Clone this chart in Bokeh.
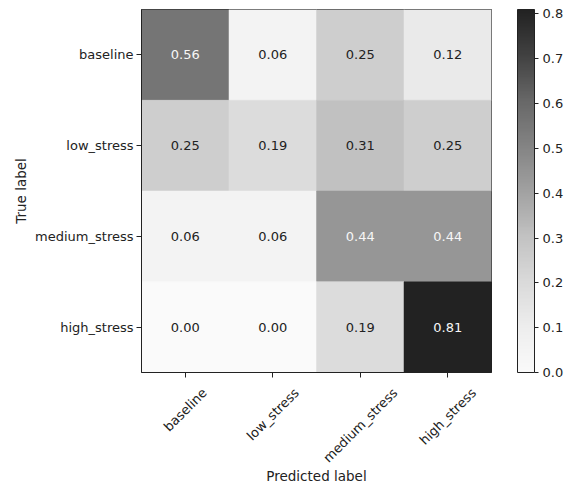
import math
import numpy as np
from bokeh.plotting import figure
from bokeh.models import (ColumnDataSource, LinearColorMapper, ColorBar, FixedTicker,
                          PrintfTickFormatter, FactorRange, Range1d, LinearAxis)
from bokeh.transform import transform
from bokeh.core.properties import value
from bokeh.embed import file_html
from bokeh.resources import INLINE

# ---- data ----
classes = ["baseline", "low_stress", "medium_stress", "high_stress"]
row_baseline = [0.56, 0.06, 0.25, 0.12]
row_low_stress = [0.25, 0.19, 0.31, 0.25]
row_medium_stress = [0.06, 0.06, 0.44, 0.44]
row_high_stress = [0.00, 0.00, 0.19, 0.81]
colorbar_ticks = [0.0, 0.1, 0.2, 0.3, 0.4, 0.5, 0.6, 0.7, 0.8]

rows = [row_baseline, row_low_stress, row_medium_stress, row_high_stress]

# ---- "Greys" colormap (slightly compressed tones, as in the reference) ----
greys_stops = ["#ffffff", "#f0f0f0", "#d9d9d9", "#bdbdbd", "#969696",
               "#737373", "#525252", "#252525", "#000000"]
stop_vals = [int(c[1:3], 16) for c in greys_stops]
t = np.linspace(0, 1, 256)
levels = np.interp(t, np.linspace(0, 1, len(stop_vals)), stop_vals)
levels = 34 + levels * (250 - 34) / 255.0
palette = ["#%02x%02x%02x" % (int(round(v)), int(round(v)), int(round(v))) for v in levels]

INK = "#222222"
LIGHT = "#f7f7f7"

vmax = max(max(r) for r in rows)
mapper = LinearColorMapper(palette=palette, low=0.0, high=vmax)

n = len(classes)
xs, ys, vals, txt, tcol = [], [], [], [], []
for i, true_c in enumerate(classes):
    for j, pred_c in enumerate(classes):
        v = rows[i][j]
        xs.append(j + 0.5)
        ys.append(true_c)
        vals.append(v)
        txt.append("%.2f" % v)
        tcol.append(LIGHT if v > vmax / 2 else INK)

src = ColumnDataSource(dict(pred=xs, true=ys, value=vals, label=txt, tcolor=tcol))

FONT = "DejaVu Sans"
FS_TICK = "13px"
FS_CELL = "13px"
FS_TITLE = "13.5px"

W, H = 566, 486
LEFT, TOP, RIGHT, BOTTOM = 141, 9, 75, 113
frame_w = W - LEFT - RIGHT

p = figure(width=W, height=H,
           x_range=Range1d(0, n), y_range=FactorRange(*classes[::-1]),
           output_backend="svg", toolbar_location=None,
           min_border_left=LEFT, min_border_top=TOP, min_border_right=RIGHT,
           min_border_bottom=BOTTOM)

p.rect(x="pred", y="true", width=1, height=1, source=src,
       fill_color=transform("value", mapper), line_color=transform("value", mapper), line_width=0.5)
p.text(x="pred", y="true", text="label", source=src, text_color="tcolor",
       text_align="center", text_baseline="middle",
       text_font=value(FONT), text_font_size=FS_CELL)

p.grid.visible = False
p.outline_line_color = INK
p.outline_line_width = 1
p.background_fill_color = "white"

def style_axis(ax):
    ax.axis_line_color = INK
    ax.major_tick_line_color = INK
    ax.major_tick_in = 0
    ax.major_tick_out = 5
    ax.minor_tick_line_color = None
    ax.major_label_text_font = FONT
    ax.major_label_text_font_size = FS_TICK
    ax.major_label_text_color = INK
    ax.axis_label_text_font = FONT
    ax.axis_label_text_font_size = FS_TITLE
    ax.axis_label_text_font_style = "normal"
    ax.axis_label_text_color = INK

# y axis (categorical)
style_axis(p.yaxis[0])
p.yaxis.axis_label = "True label"
p.yaxis.major_label_standoff = 3
p.yaxis.axis_label_standoff = 3

# x axis: tick marks at the cell centres (labels drawn by the second axis)
centres = [j + 0.5 for j in range(n)]
xa = p.xaxis[0]
style_axis(xa)
xa.ticker = FixedTicker(ticks=centres)
xa.major_label_overrides = {c: "" for c in centres}
xa.major_label_standoff = 0

# second x axis carrying the 45° labels, centred under the ticks (matplotlib style)
adv = {"a": 613, "b": 635, "d": 635, "e": 615, "g": 635, "h": 634, "i": 278, "l": 278,
       "m": 974, "n": 634, "o": 612, "r": 411, "s": 521, "t": 392, "u": 634, "w": 818, "_": 500}
fs_px = 13.0
px_per_unit = frame_w / n
label_ticks, label_map = [], {}
for j, c in enumerate(classes):
    w = sum(adv.get(ch, 600) for ch in c) / 1000.0 * fs_px
    pos = round(centres[j] + w * math.cos(math.pi / 4) / 2 / px_per_unit, 3)
    label_ticks.append(pos)
    label_map[pos] = c

xb = LinearAxis(ticker=FixedTicker(ticks=label_ticks), major_label_overrides=label_map)
style_axis(xb)
xb.axis_line_color = None
xb.major_tick_line_color = None
xb.major_tick_out = 0
xb.major_label_orientation = math.pi / 4
xb.major_label_standoff = 13
xb.axis_label = "Predicted label"
xb.axis_label_standoff = -6
p.add_layout(xb, "below")

# spacer between heatmap and colour bar
spacer = LinearAxis(ticker=FixedTicker(ticks=[0.5]), major_label_overrides={0.5: ""},
                    axis_line_color=None, major_tick_line_color=None,
                    minor_tick_line_color=None, major_tick_in=0, major_tick_out=26,
                    major_label_standoff=0)
p.add_layout(spacer, "right")

cb = ColorBar(color_mapper=mapper, width=17, padding=0, margin=0,
              ticker=FixedTicker(ticks=colorbar_ticks),
              formatter=PrintfTickFormatter(format="%.1f"),
              major_tick_in=0, major_tick_out=4, major_tick_line_color=INK,
              bar_line_color=INK, bar_line_width=1, label_standoff=4,
              major_label_text_font=FONT, major_label_text_font_size=FS_TICK,
              major_label_text_color=INK, background_fill_color=None)
p.add_layout(cb, "right")

open("out.html", "w").write(file_html(p, INLINE))
